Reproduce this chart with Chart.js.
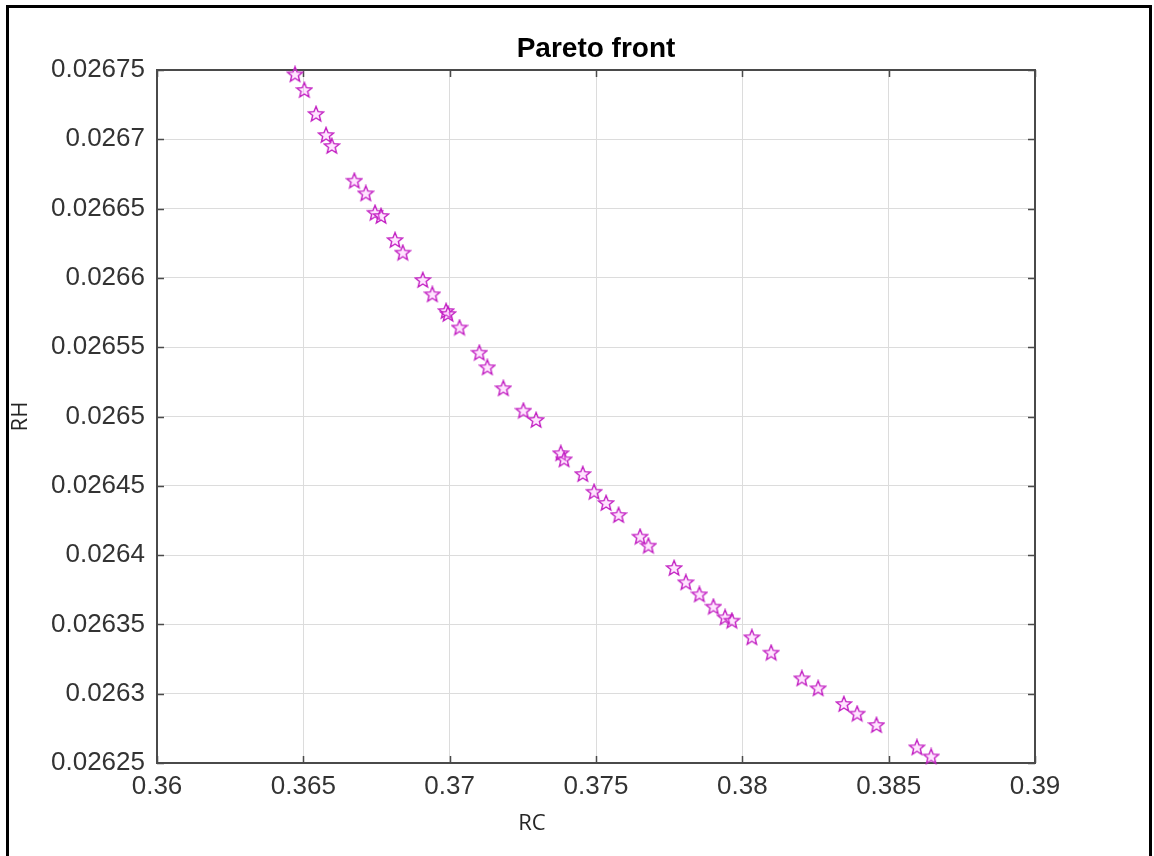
<!DOCTYPE html>
<html>
<head>
<meta charset="utf-8">
<title>Pareto front</title>
<script src="https://cdn.jsdelivr.net/npm/chart.js@4.4.1/dist/chart.umd.min.js"></script>
<style>
    html, body { margin: 0; padding: 0; background: #fff; }
    #wrap { width: 1154px; height: 856px; }
</style>
</head>
<body>
<div id="wrap"><canvas id="paretoChart" width="1154" height="856"></canvas></div>
<script>
// Pareto front points (RC, RH)
const rcValues = [
    0.364716, 0.365034, 0.365434, 0.365776, 0.365971, 0.366743, 0.367133, 0.367450, 0.367655,
    0.368134, 0.368397, 0.369081, 0.369409, 0.369877, 0.369945, 0.370338, 0.371015, 0.371288,
    0.371835, 0.372519, 0.372953, 0.373797, 0.373910, 0.374549, 0.374935, 0.375345, 0.375772,
    0.376507, 0.376791, 0.377669, 0.378069, 0.378534, 0.379012, 0.379412, 0.379641, 0.380325,
    0.380984, 0.382033, 0.382590, 0.383469, 0.383923, 0.384583, 0.385964, 0.386452
];
const rhValues = [
    0.0267469, 0.0267356, 0.0267183, 0.0267031, 0.0266952, 0.0266701, 0.0266610, 0.0266470, 0.0266447,
    0.0266273, 0.0266182, 0.0265985, 0.0265882, 0.0265761, 0.0265740, 0.0265642, 0.0265460, 0.0265355,
    0.0265204, 0.0265042, 0.0264975, 0.0264735, 0.0264691, 0.0264585, 0.0264457, 0.0264376, 0.0264289,
    0.0264133, 0.0264068, 0.0263907, 0.0263804, 0.0263717, 0.0263628, 0.0263551, 0.0263527, 0.0263407,
    0.0263296, 0.0263111, 0.0263039, 0.0262926, 0.0262856, 0.0262774, 0.0262613, 0.0262547
];

// Axis ticks
const xTickValues = [0.36, 0.365, 0.37, 0.375, 0.38, 0.385, 0.39];
const xTickLabels = ['0.36', '0.365', '0.37', '0.375', '0.38', '0.385', '0.39'];
const yTickValues = [0.02625, 0.0263, 0.02635, 0.0264, 0.02645, 0.0265, 0.02655, 0.0266, 0.02665, 0.0267, 0.02675];
const yTickLabels = ['0.02625', '0.0263', '0.02635', '0.0264', '0.02645', '0.0265', '0.02655', '0.0266', '0.02665', '0.0267', '0.02675'];

const tickFont = { family: "'Liberation Sans', Arial, sans-serif", size: 26 };
const labelFont = "22px 'Open Sans', sans-serif";

// outlined five-point star, like MATLAB's 'p' marker
function makeStar(size) {
    const c = document.createElement('canvas');
    c.width = size;
    c.height = size;
    const g = c.getContext('2d');
    const cx = size / 2, cy = size / 2 + 0.5;
    const ro = size / 2 - 1, ri = ro * 0.44;
    g.beginPath();
    for (let i = 0; i < 10; i++) {
        const r = i % 2 ? ri : ro;
        const a = -Math.PI / 2 + i * Math.PI / 5;
        g.lineTo(cx + r * Math.cos(a), cy + r * Math.sin(a));
    }
    g.closePath();
    g.fillStyle = 'rgba(255, 170, 255, 0.3)';
    g.fill();
    g.strokeStyle = '#c21fc2';
    g.lineWidth = 1.4;
    g.stroke();
    return c;
}

// figure frame, axes box, inward ticks and the RC label
const axesBox = {
    id: 'axesBox',
    beforeDraw(chart) {
        const ctx = chart.ctx;
        ctx.save();
        ctx.fillStyle = '#fff';
        ctx.fillRect(0, 0, chart.width, chart.height);
        ctx.strokeStyle = '#000';
        ctx.lineWidth = 3;
        ctx.beginPath();
        ctx.moveTo(7.5, 870);
        ctx.lineTo(7.5, 6.5);
        ctx.lineTo(1150.5, 6.5);
        ctx.lineTo(1150.5, 870);
        ctx.stroke();
        ctx.restore();
    },
    beforeDatasetsDraw(chart) {
        const { ctx, chartArea: a, scales } = chart;
        const len = 7;
        ctx.save();
        ctx.strokeStyle = '#4a4a4a';
        ctx.lineWidth = 1.5;
        ctx.beginPath();
        xTickValues.forEach(v => {
            const px = Math.round(scales.x.getPixelForValue(v)) + 0.5;
            ctx.moveTo(px, a.bottom); ctx.lineTo(px, a.bottom - len);
            ctx.moveTo(px, a.top); ctx.lineTo(px, a.top + len);
        });
        yTickValues.forEach(v => {
            const py = Math.round(scales.y.getPixelForValue(v)) + 0.5;
            ctx.moveTo(a.left, py); ctx.lineTo(a.left + len, py);
            ctx.moveTo(a.right, py); ctx.lineTo(a.right - len, py);
        });
        ctx.stroke();
        ctx.lineWidth = 2;
        ctx.strokeRect(a.left, a.top, a.right - a.left, a.bottom - a.top);
        ctx.restore();
    },
    afterDraw(chart) {
        const ctx = chart.ctx;
        ctx.save();
        ctx.font = labelFont;
        ctx.fillStyle = '#262626';
        ctx.textAlign = 'center';
        ctx.textBaseline = 'middle';
        ctx.fillText('RC', 532, 824);
        ctx.restore();
    }
};

const points = rcValues.map((x, i) => ({ x: x, y: rhValues[i] }));

new Chart(document.getElementById('paretoChart'), {
    type: 'scatter',
    data: {
        datasets: [{
            data: points,
            pointStyle: makeStar(18),
            pointRadius: 8,
            clip: false
        }]
    },
    options: {
        responsive: false,
        animation: false,
        devicePixelRatio: 1,
        layout: { padding: { left: 0, right: 119, top: 0, bottom: 0 } },
        plugins: {
            legend: { display: false },
            tooltip: { enabled: false },
            title: {
                display: true,
                fullSize: false,
                text: 'Pareto front',
                color: '#000',
                font: { family: "'Liberation Sans', Arial, sans-serif", size: 28, weight: 'bold' },
                padding: { top: 32, bottom: 4.4 }
            }
        },
        scales: {
            x: {
                type: 'linear',
                min: 0.36,
                max: 0.39,
                afterBuildTicks: s => { s.ticks = xTickValues.map(v => ({ value: v })); },
                afterFit: s => { s.height = 93; },
                grid: { color: '#dcdcdc', lineWidth: 1, drawTicks: false },
                border: { display: false },
                ticks: {
                    padding: 8,
                    color: '#333',
                    font: tickFont,
                    maxRotation: 0,
                    callback: (val, i) => xTickLabels[i]
                }
            },
            y: {
                type: 'linear',
                min: 0.02625,
                max: 0.02675,
                afterBuildTicks: s => { s.ticks = yTickValues.map(v => ({ value: v })); },
                afterFit: s => { s.width = 157; },
                grid: { color: '#dcdcdc', lineWidth: 1, drawTicks: false },
                border: { display: false },
                ticks: {
                    padding: 12,
                    color: '#333',
                    font: tickFont,
                    callback: (val, i) => yTickLabels[i]
                },
                title: {
                    display: true,
                    text: 'RH',
                    color: '#262626',
                    font: { family: "'Open Sans', sans-serif", size: 22 },
                    padding: { top: 8, bottom: 0 }
                }
            }
        }
    },
    plugins: [axesBox]
});
</script>
</body>
</html>
